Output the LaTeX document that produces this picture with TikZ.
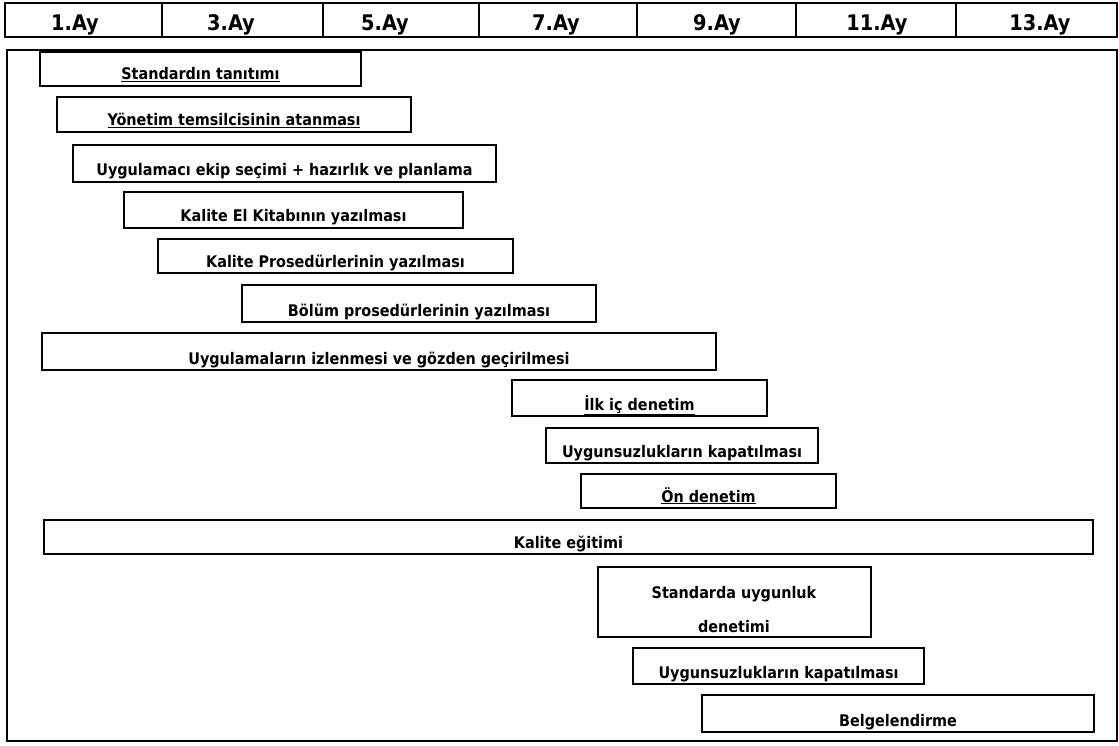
\documentclass[tikz,border=0pt]{standalone}
\usepackage{fontspec}
\setmainfont{DejaVu Sans}
\newfontfamily\koyu{DejaVu Sans Condensed}

\tikzset{
  kutu/.style={draw=black, line width=1.7pt},
  etiket/.style={anchor=base, inner sep=0pt, font=\koyu\bfseries\fontsize{16}{19}\selectfont},
  ay/.style={anchor=base, inner sep=0pt, font=\koyu\bfseries\fontsize{21.5}{25}\selectfont},
}

% #1 ad, #2,#3 sol ust, #4,#5 sag alt, #6 metin
\newcommand{\gorev}[6]{%
  \draw[kutu] (#2,#3) rectangle (#4,#5);
  \node[etiket] (#1) at ({(#2+#4)/2},{#5-6}) {\underline{#6}};
}

\begin{document}
\begin{tikzpicture}[x=1pt, y=-1pt]
  \useasboundingbox (0,0) rectangle (1119,746);

  \draw[kutu] (5,3) rectangle (1117,37);
  \foreach \x in {162,323,479,637,796,956}
    \draw[kutu] (\x,3) -- (\x,37);
  \foreach \n/\x in {1/75,3/231,5/385,7/556,9/717,11/877,13/1040}
    \node[ay] (ay\n) at (\x,31) {\underline{\n.Ay}};

  \draw[kutu] (7,50) rectangle (1117,741);

  \gorev{tanitim}{40}{52}{361}{86}{Standardın tanıtımı}
  \gorev{temsilci}{57}{97}{411}{132}{Yönetim temsilcisinin atanması}
  \gorev{ekip}{73}{145}{496}{182}{Uygulamacı ekip seçimi + hazırlık ve planlama}
  \gorev{elkitabi}{124}{192}{463}{228}{Kalite El Kitabının yazılması}
  \gorev{kaliteprs}{158}{239}{513}{273}{Kalite Prosedürlerinin yazılması}
  \gorev{bolumprs}{242}{285}{596}{322}{Bölüm prosedürlerinin yazılması}
  \gorev{izleme}{42}{333}{716}{370}{Uygulamaların izlenmesi ve gözden geçirilmesi}
  \gorev{icdenetim}{512}{380}{767}{416}{İlk iç denetim}
  \gorev{kapatma1}{546}{428}{818}{463}{Uygunsuzlukların kapatılması}
  \gorev{ondenetim}{581}{474}{836}{508}{Ön denetim}
  \gorev{egitim}{44}{520}{1093}{554}{Kalite eğitimi}

  \draw[kutu] (598,567) rectangle (871,637);
  \node[etiket] (uygunluk) at (734,598) {Standarda uygunluk};
  \node[etiket] (uygunluk2) at (734,632) {denetimi};

  \gorev{kapatma2}{633}{648}{924}{684}{Uygunsuzlukların kapatılması}
  \gorev{belge}{702}{695}{1094}{732}{Belgelendirme}
\end{tikzpicture}
\end{document}
